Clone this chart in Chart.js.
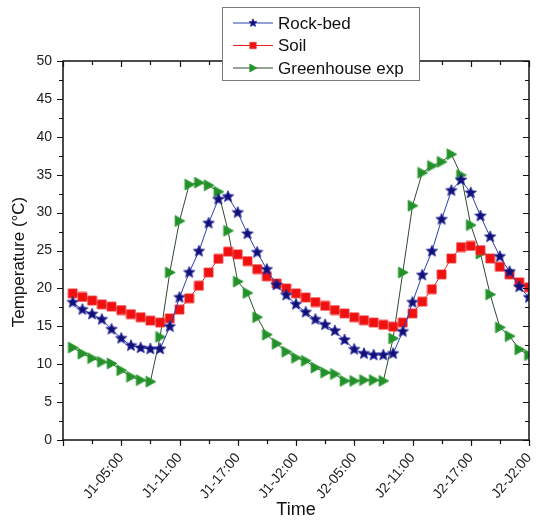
<!DOCTYPE html>
<html>
<head>
<meta charset="utf-8">
<script src="https://cdn.jsdelivr.net/npm/chart.js@4/dist/chart.umd.min.js"></script>
<style>
  html, body { margin: 0; padding: 0; background: #fff; }
  #wrap { width: 536px; height: 521px; }
</style>
</head>
<body>
<div id="wrap"><canvas id="c" width="536" height="521"></canvas></div>
<script>
// Hourly readings over two days (hour offset from J1-00:00 minus one hour)
const hours = [1, 2, 3, 4, 5, 6, 7, 8, 9, 10, 11, 12, 13, 14, 15, 16, 17, 18, 19, 20, 21, 22, 23, 24,
               25, 26, 27, 28, 29, 30, 31, 32, 33, 34, 35, 36, 37, 38, 39, 40, 41, 42, 43, 44, 45, 46, 47, 48];

const rockBed = [18.15, 17.2, 16.6, 15.9, 14.6, 13.4, 12.45, 12.15, 12.0, 12.0, 14.95, 18.8,
                 22.1, 24.9, 28.6, 31.75, 32.1, 30.0, 27.2, 24.75, 22.5, 20.45, 19.1, 17.9,
                 16.85, 15.9, 15.2, 14.4, 13.2, 11.95, 11.4, 11.2, 11.2, 11.4, 14.3, 18.15,
                 21.75, 24.9, 29.1, 32.9, 34.3, 32.6, 29.55, 26.8, 24.2, 22.2, 20.2, 18.8];

const soil = [19.35, 18.87, 18.4, 17.9, 17.6, 17.15, 16.6, 16.2, 15.75, 15.5, 16.05, 17.2,
              18.7, 20.35, 22.1, 23.9, 24.85, 24.5, 23.6, 22.55, 21.6, 20.65, 20.0, 19.35,
              18.8, 18.2, 17.7, 17.15, 16.7, 16.2, 15.8, 15.5, 15.2, 14.95, 15.5, 16.7,
              18.25, 19.9, 21.85, 23.95, 25.45, 25.6, 25.05, 23.95, 22.85, 21.85, 20.8, 20.15];

const greenhouse = [12.2, 11.4, 10.8, 10.3, 10.1, 9.2, 8.35, 7.9, 7.7, 13.6, 22.1, 28.9,
                    33.7, 33.95, 33.6, 32.75, 27.6, 20.9, 19.4, 16.2, 13.9, 12.7, 11.65, 10.85,
                    10.45, 9.55, 8.9, 8.7, 7.8, 7.8, 7.9, 7.9, 7.8, 13.4, 22.1, 30.9,
                    35.25, 36.15, 36.7, 37.7, 34.95, 28.35, 24.6, 19.2, 14.85, 13.7, 11.95, 11.2];

const tickHours = [0, 6, 12, 18, 24, 30, 36, 42, 48];
const tickLabels = ['', 'J1-05:00', 'J1-11:00', 'J1-17:00', 'J1-J2:00', 'J2-05:00', 'J2-11:00', 'J2-17:00', 'J2-J2:00'];

const FONT = "'Liberation Sans', Arial, sans-serif";

// Marker shapes shared by the plot and the legend
function drawShape(g, kind, cx, cy, s, fill, edge) {
  g.save();
  g.fillStyle = fill;
  g.strokeStyle = edge;
  g.lineWidth = 0.8;
  g.beginPath();
  if (kind === 'star') {
    const R = s, r = s * 0.45;
    for (let i = 0; i < 10; i++) {
      const rad = i % 2 ? r : R;
      const ang = -Math.PI / 2 + i * Math.PI / 5;
      const px = cx + rad * Math.cos(ang), py = cy + rad * Math.sin(ang);
      if (i) g.lineTo(px, py); else g.moveTo(px, py);
    }
  } else if (kind === 'square') {
    g.rect(cx - s, cy - s, 2 * s, 2 * s);
  } else {
    g.moveTo(cx - s * 0.8, cy - s);
    g.lineTo(cx - s * 0.8, cy + s);
    g.lineTo(cx + s, cy);
  }
  g.closePath();
  g.fill();
  g.stroke();
  g.restore();
}

function makeMarker(kind, s, fill, edge) {
  const c = document.createElement('canvas');
  const n = Math.ceil(2 * s + 2);
  c.width = n; c.height = n;
  drawShape(c.getContext('2d'), kind, n / 2, n / 2, s, fill, edge);
  return c;
}

const series = [
  { label: 'Rock-bed', values: rockBed, kind: 'star', size: 6, fill: '#101078', edge: '#2a2aa0', line: '#2b3fb0' },
  { label: 'Soil', values: soil, kind: 'square', size: 4.5, fill: '#f01010', edge: '#f43a3a', line: '#e82020' },
  { label: 'Greenhouse exp', values: greenhouse, kind: 'tri', size: 5.5, fill: '#23912a', edge: '#2c9a32', line: '#2e4a2e' }
];

const datasets = series.map(s => ({
  label: s.label,
  data: hours.map((h, i) => ({ x: h, y: s.values[i] })),
  borderColor: s.line,
  borderWidth: 1,
  pointStyle: makeMarker(s.kind, s.size, s.fill, s.edge),
  pointRadius: s.size,
  fill: false,
  tension: 0,
  _kind: s.kind, _fill: s.fill, _edge: s.edge
}));

// Boxed frame with major/minor ticks on all four sides
const framePlugin = {
  id: 'frame',
  afterDatasetsDraw(chart) {
    const { ctx, chartArea: a, scales: { x, y } } = chart;
    ctx.save();
    ctx.strokeStyle = '#111';
    ctx.lineWidth = 1.5;
    ctx.strokeRect(a.left, a.top, a.right - a.left, a.bottom - a.top);
    ctx.lineWidth = 1.2;
    ctx.beginPath();
    for (let v = x.min; v <= x.max; v += 3) {
      const px = Math.round(x.getPixelForValue(v)) + 0.5;
      const len = v % 6 === 0 ? 6 : 4;
      ctx.moveTo(px, a.bottom); ctx.lineTo(px, a.bottom + len);
      ctx.moveTo(px, a.top); ctx.lineTo(px, a.top + len);
    }
    for (let v = y.min; v <= y.max; v += 2.5) {
      const py = Math.round(y.getPixelForValue(v)) + 0.5;
      const len = v % 5 === 0 ? 6 : 4;
      ctx.moveTo(a.left, py); ctx.lineTo(a.left - len, py);
      ctx.moveTo(a.right, py); ctx.lineTo(a.right - len, py);
    }
    ctx.stroke();

    // vertical axis title
    ctx.fillStyle = '#111';
    ctx.font = '17px ' + FONT;
    ctx.textAlign = 'center';
    ctx.textBaseline = 'middle';
    ctx.translate(19, 262);
    ctx.rotate(-Math.PI / 2);
    ctx.fillText('Temperature (\u00B0C)', 0, 0);
    ctx.restore();
  },
  afterDraw(chart) {
    const ctx = chart.ctx;
    const bx = 222, by = 7, bw = 197, bh = 73;
    ctx.save();
    ctx.fillStyle = '#fff';
    ctx.fillRect(bx, by, bw, bh);
    ctx.strokeStyle = '#7a7a7a';
    ctx.lineWidth = 1;
    ctx.strokeRect(bx + 0.5, by + 0.5, bw, bh);
    chart.data.datasets.forEach((ds, i) => {
      const ry = by + 16 + i * 22.5;
      ctx.strokeStyle = ds.borderColor;
      ctx.lineWidth = 1;
      ctx.beginPath();
      ctx.moveTo(bx + 11, ry); ctx.lineTo(bx + 51, ry);
      ctx.stroke();
      drawShape(ctx, ds._kind, bx + 31, ry, ds._kind === 'star' ? 4.2 : (ds._kind === 'square' ? 3.2 : 4), ds._fill, ds._edge);
      ctx.fillStyle = '#111';
      ctx.font = '17px ' + FONT;
      ctx.textAlign = 'left';
      ctx.textBaseline = 'middle';
      ctx.fillText(ds.label, bx + 56, ry + 1);
    });
    ctx.restore();
  }
};

new Chart(document.getElementById('c'), {
  type: 'line',
  data: { datasets },
  options: {
    responsive: false,
    animation: false,
    devicePixelRatio: 1,
    layout: { padding: { left: 0, right: 3, top: 61, bottom: 0 } },
    plugins: { legend: { display: false }, tooltip: { enabled: false } },
    scales: {
      x: {
        type: 'linear',
        min: 0,
        max: 48,
        afterFit(s) { s.height = 81; s.paddingLeft = 0; s.paddingRight = 0; },
        afterBuildTicks(s) { s.ticks = tickHours.map(v => ({ value: v })); },
        ticks: {
          autoSkip: false,
          maxRotation: 50,
          minRotation: 50,
          padding: 4,
          color: '#222',
          font: { family: FONT, size: 14 },
          callback: v => tickLabels[tickHours.indexOf(v)] ?? ''
        },
        grid: { display: false, drawTicks: true, tickLength: 6 },
        border: { display: false },
        title: { display: true, text: 'Time', color: '#111', font: { family: FONT, size: 18 }, padding: { top: 0, bottom: 0 } }
      },
      y: {
        min: 0,
        max: 50,
        afterFit(s) { s.width = 63; },
        ticks: { stepSize: 5, padding: 5, color: '#222', font: { family: FONT, size: 14 } },
        grid: { display: false, drawTicks: true, tickLength: 6 },
        border: { display: false }
      }
    }
  },
  plugins: [framePlugin]
});
</script>
</body>
</html>
